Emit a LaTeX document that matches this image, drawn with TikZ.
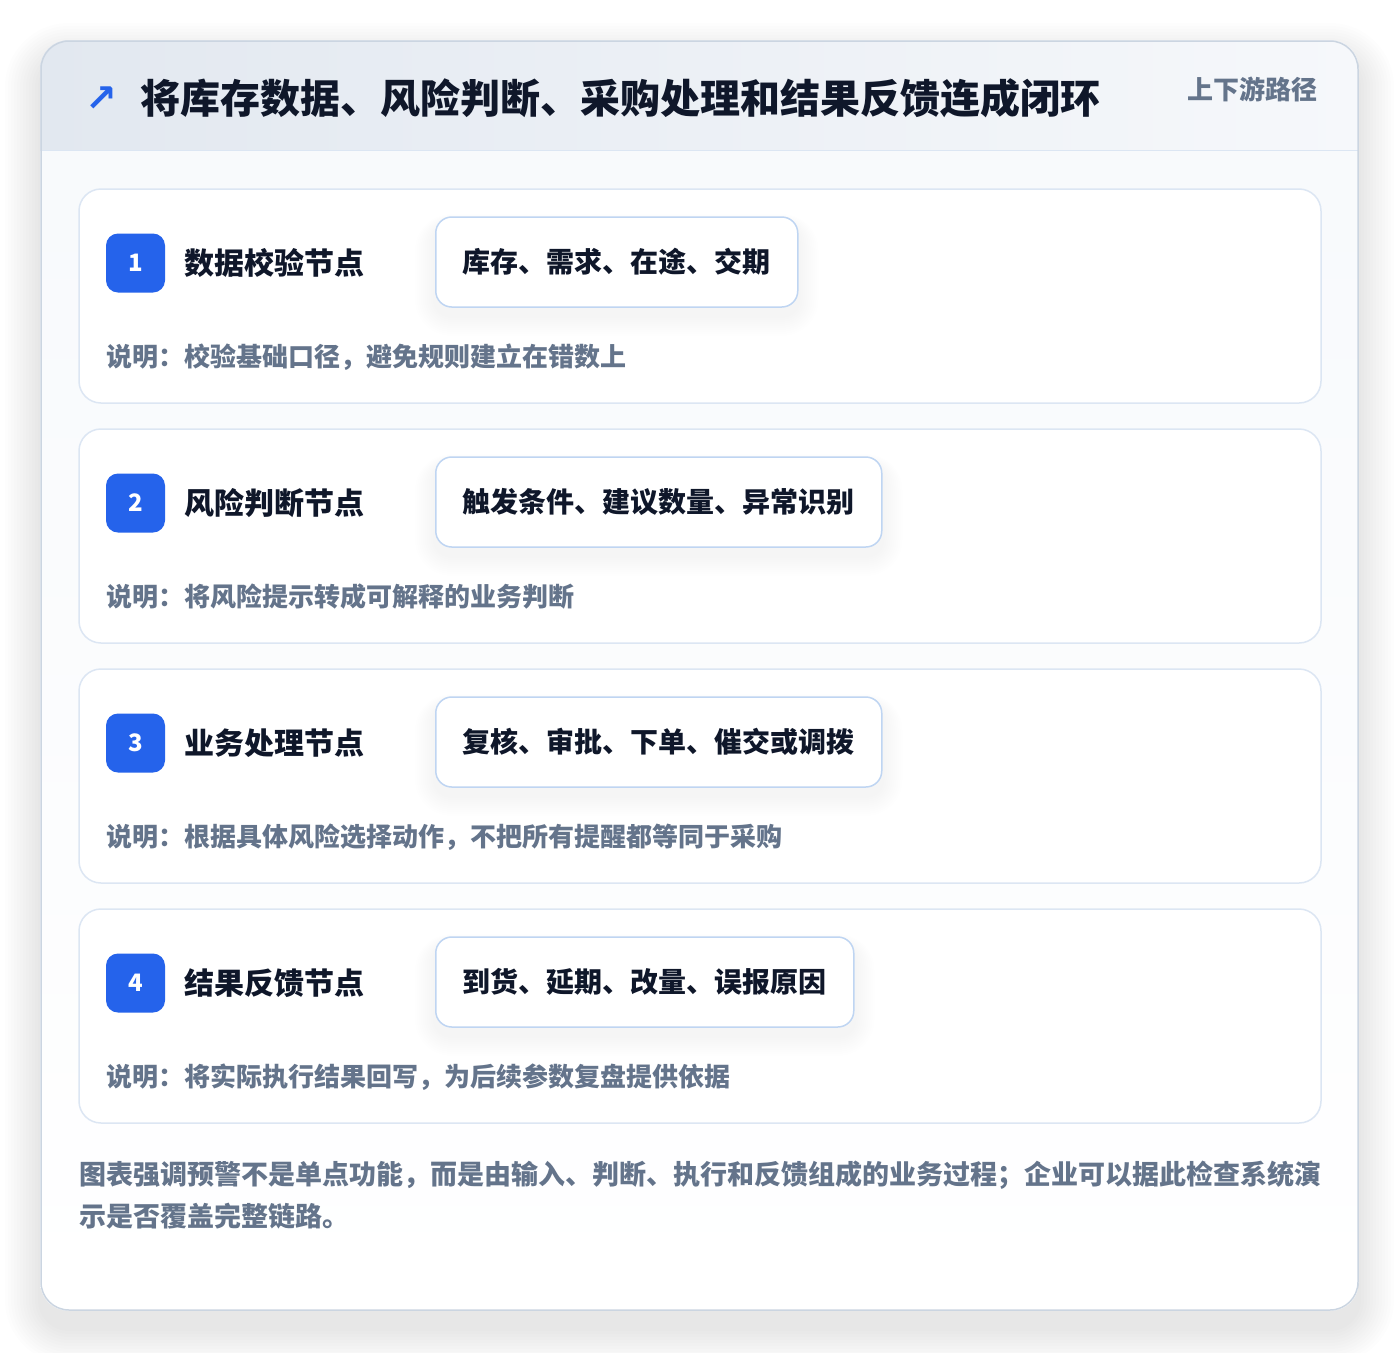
\documentclass[tikz,border=0pt]{standalone}
\usepackage{fontspec}
\setmainfont{Noto Sans CJK SC}
\newfontfamily\symfont{DejaVu Sans}
\usepackage{tikz}
\usetikzlibrary{calc,positioning}
\definecolor{inkdark}{HTML}{0F172A}
\definecolor{inkgray}{HTML}{64748B}
\definecolor{brandblue}{HTML}{2563EB}
\definecolor{cardline}{HTML}{DCE6F3}
\definecolor{tagline}{HTML}{BFD5F2}
\definecolor{panelline}{HTML}{CBD5E1}
\definecolor{headleft}{HTML}{E2E8F0}
\definecolor{headright}{HTML}{F6F8FB}
\definecolor{bodytop}{HTML}{F7F9FC}
\newcommand{\fsz}[1]{\fontsize{#1}{#1}\selectfont}
\pgfdeclarelayer{tagshade}
\pgfdeclarelayer{tagtop}
\pgfsetlayers{main,tagshade,tagtop}
\tikzset{
  panel/.style={draw=panelline, line width=1.5pt, rounded corners=28pt,
    minimum width=1317pt, minimum height=1269pt, inner sep=0pt},
  stepcard/.style={draw=cardline, line width=1.5pt, fill=white, rounded corners=22pt,
    minimum width=1242pt, minimum height=214pt, inner sep=0pt},
  badge/.style={fill=brandblue, rounded corners=12pt, minimum size=59pt,
    inner sep=0pt, text=white, font=\fsz{24}\bfseries},
  stepname/.style={inner sep=0pt, text=inkdark, font=\fsz{30}\bfseries},
  tagbox/.style={draw=tagline, line width=1.5pt, fill=white, rounded corners=16pt,
    minimum height=90pt, inner xsep=27pt, inner ysep=0pt, anchor=west,
    text=inkdark, font=\fsz{28}\bfseries},
  notetext/.style={anchor=west, inner sep=0pt, text=inkgray, font=\fsz{26}\bfseries},
}
\begin{document}
\begin{tikzpicture}[x=1pt,y=-1pt]
  \useasboundingbox (0,0) rectangle (1400,1352);
  \fill[white] (0,0) rectangle (1400,1352);
  % soft shadow under the panel
  \foreach \k [evaluate=\k as \r using 28+3*\k] in {1,...,12}
    \fill[black, opacity=0.008, rounded corners=\r pt]
      (41-3*\k,41-3*\k+18) rectangle (1358+3*\k,1310+3*\k+18);
  \node[panel, fill=white] (panel) at (699.5,675.5) {};
  \begin{scope}
    \clip[rounded corners=28pt] (panel.north west) rectangle (panel.south east);
    \shade[top color=bodytop, bottom color=white] (panel.north west) rectangle (panel.south east);
    \shade[left color=headleft, right color=headright] (panel.north west) rectangle ($(panel.north east)+(0,110)$);
    \draw[cardline, line width=1.5pt] ($(panel.north west)+(0,110)$) -- ($(panel.north east)+(0,110)$);
  \end{scope}
  \node[panel] (frame) at (panel) {};

  % header
  \node[inner sep=0pt, text=brandblue, font=\symfont\bfseries\fsz{38}] (icon) at (101,99) {↗};
  \node[anchor=west, inner sep=0pt, text=inkdark, font=\fsz{40}\bfseries] (title) at (140,98)
    {将库存数据、风险判断、采购处理和结果反馈连成闭环};
  \node[anchor=east, inner sep=0pt, text=inkgray, font=\fsz{26}\bfseries] (pathtag) at (1318,89) {上下游路径};

  % steps
  \foreach \i/\name/\tag/\note in {
      1/{数据校验节点}/{库存、需求、在途、交期}/{说明：校验基础口径，避免规则建立在错数上},
      2/{风险判断节点}/{触发条件、建议数量、异常识别}/{说明：将风险提示转成可解释的业务判断},
      3/{业务处理节点}/{复核、审批、下单、催交或调拨}/{说明：根据具体风险选择动作，不把所有提醒都等同于采购},
      4/{结果反馈节点}/{到货、延期、改量、误报原因}/{说明：将实际执行结果回写，为后续参数复盘提供依据}} {
    \pgfmathsetmacro\cardtop{189+(\i-1)*240}
    \node[stepcard] (card\i) at (700,\cardtop+107) {};
    \node[badge] (badge\i) at (135.5,\cardtop+74) {\i};
    \node[stepname, right=19pt of badge\i] (name\i) {\name};
    \begin{pgfonlayer}{tagtop}
      \node[tagbox] (tag\i) at (435,\cardtop+73) {\tag};
    \end{pgfonlayer}
    \begin{pgfonlayer}{tagshade}
      \foreach \k [evaluate=\k as \r using 16+2*\k] in {1,...,10}
        \fill[black, opacity=0.0045, rounded corners=\r pt]
          ($(tag\i.north west)+(-2*\k,8-\k)$) rectangle ($(tag\i.south east)+(2*\k,8+2*\k)$);
    \end{pgfonlayer}
    \node[notetext] (note\i) at (106,\cardtop+168) {\note};
  }

  % summary
  \node[anchor=north west, inner sep=0pt, align=left, text=inkgray,
    font=\fontsize{27}{42}\selectfont\bfseries] (summary) at (79,1161)
    {图表强调预警不是单点功能，而是由输入、判断、执行和反馈组成的业务过程；企业可以据此检查系统演\\示是否覆盖完整链路。};
\end{tikzpicture}
\end{document}
